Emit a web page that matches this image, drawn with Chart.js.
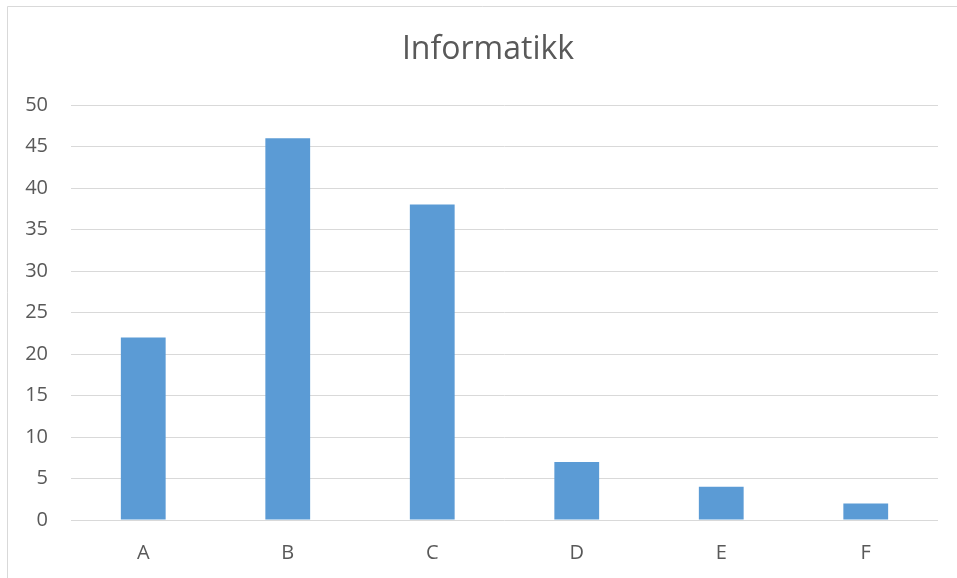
<!DOCTYPE html>
<html>
<head>
<meta charset="utf-8">
<script src="https://cdn.jsdelivr.net/npm/chart.js@4"></script>
<style>
  html, body { margin: 0; padding: 0; background: #fff; }
  #wrap { width: 957px; height: 578px; position: relative; }
</style>
</head>
<body>
<div id="wrap"><canvas id="myChart" width="957" height="578"></canvas></div>
<script>
const categories = ['A', 'B', 'C', 'D', 'E', 'F'];
const counts = [22, 46, 38, 7, 4, 2];
const yTicks = [0, 5, 10, 15, 20, 25, 30, 35, 40, 45, 50];

const textColor = '#595959';
const fontFamily = "'Open Sans', 'Noto Sans', sans-serif";

// frame lines at left and top, like the cropped screenshot
const framePlugin = {
    id: 'frame',
    beforeDraw(chart) {
        const ctx = chart.ctx;
        ctx.save();
        ctx.fillStyle = '#fff';
        ctx.fillRect(0, 0, chart.width, chart.height);
        ctx.strokeStyle = '#D9D9D9';
        ctx.lineWidth = 1;
        ctx.beginPath();
        ctx.moveTo(7.5, chart.height);
        ctx.lineTo(7.5, 6.5);
        ctx.lineTo(chart.width, 6.5);
        ctx.stroke();
        ctx.restore();
    }
};

const canvas = document.getElementById('myChart');
const myChart = new Chart(canvas, {
    type: 'bar',
    data: {
        labels: categories,
        datasets: [{
            label: 'Informatikk',
            data: counts,
            backgroundColor: '#5B9BD5',
            borderWidth: 0,
            barPercentage: 0.31,
            categoryPercentage: 1
        }]
    },
    options: {
        responsive: false,
        animation: false,
        layout: { padding: { left: 19, right: 0, top: 0, bottom: 0 } },
        plugins: {
            legend: { display: false },
            tooltip: { enabled: false },
            title: {
                display: true,
                text: 'Informatikk',
                color: textColor,
                font: { family: fontFamily, size: 32, weight: 'normal', lineHeight: 1.2 },
                padding: { top: 31, bottom: 35.6 }
            }
        },
        scales: {
            x: {
                grid: { display: false },
                border: { display: false },
                ticks: {
                    color: textColor,
                    font: { family: fontFamily, size: 20 },
                    padding: 13
                },
                afterFit(scale) { scale.height = 58; }
            },
            y: {
                min: 0,
                max: 50,
                afterBuildTicks(scale) { scale.ticks = yTicks.map(v => ({ value: v })); },
                grid: { color: '#D9D9D9', lineWidth: 1, drawTicks: false },
                border: { display: false },
                ticks: {
                    color: textColor,
                    font: { family: fontFamily, size: 20 },
                    padding: 23
                },
                afterFit(scale) { scale.width = 52; }
            },
            // empty right-hand spacer so the plot ends where the reference does
            yRight: {
                position: 'right',
                min: 0,
                max: 50,
                grid: { display: false },
                border: { display: false },
                ticks: { display: false },
                afterFit(scale) { scale.width = 19; }
            }
        }
    },
    plugins: [framePlugin]
});
</script>
</body>
</html>
